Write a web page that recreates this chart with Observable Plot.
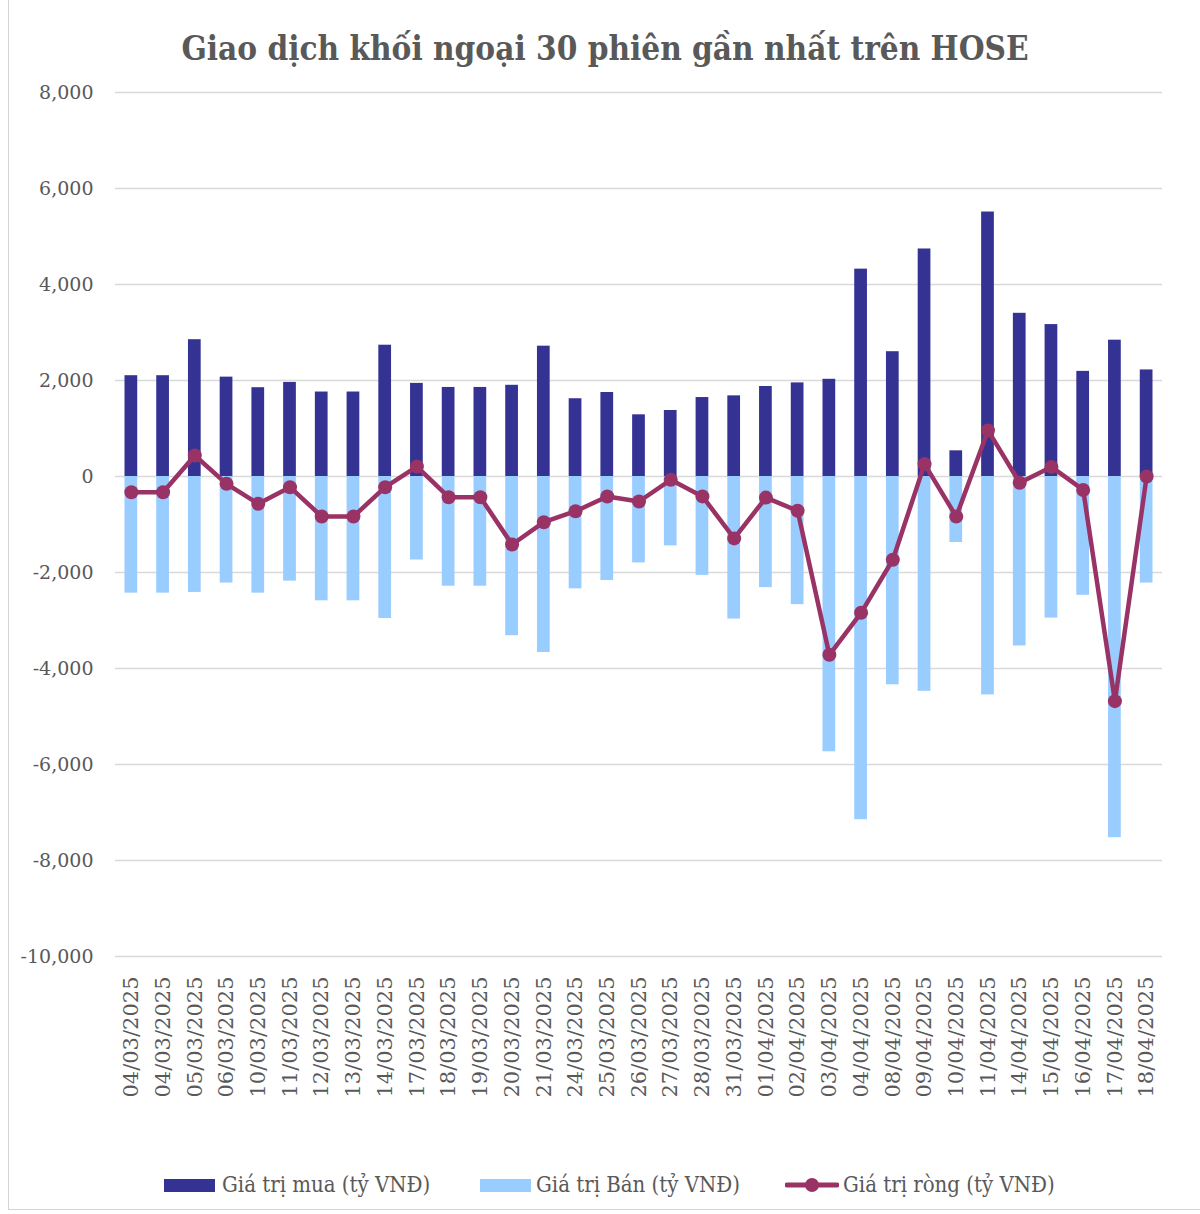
<!DOCTYPE html>
<html>
<head>
<meta charset="utf-8">
<script src="https://cdn.jsdelivr.net/npm/d3@7"></script>
<script src="https://cdn.jsdelivr.net/npm/@observablehq/plot@0.6"></script>
<style>
  html, body { margin: 0; padding: 0; background: #fff; }
  #wrap { position: relative; width: 1200px; height: 1214px; overflow: hidden; font-family: "DejaVu Serif", serif; }
  #frame { position: absolute; left: 8px; top: -2px; width: 1200px; height: 1212px; border: 1.5px solid #d4d4d4; box-sizing: border-box; pointer-events: none; }
  #title { height: 80px; box-sizing: border-box; padding-top: 30px; text-align: center; font-family: "DejaVu Serif Condensed", "DejaVu Serif", serif; font-stretch: condensed; font-weight: bold; font-size: 33px; line-height: 38px; color: #595959; padding-left: 10px; }
  #chart svg { display: block; }
  #legend { position: relative; height: 44px; font-family: "DejaVu Serif Condensed", "DejaVu Serif", serif; font-stretch: condensed; font-size: 22px; color: #595959; }
  .sw { position: absolute; top: 9px; height: 13px; }
  .lt { position: absolute; top: 1px; line-height: 28px; white-space: nowrap; }
</style>
</head>
<body>
<div id="wrap">
  <div id="title">Giao dịch khối ngoại 30 phiên gần nhất trên HOSE</div>
  <div id="chart"></div>
  <div id="legend"></div>
  <div id="frame"></div>
</div>
<script>
const dates = ["04/03/2025","04/03/2025","05/03/2025","06/03/2025","10/03/2025","11/03/2025","12/03/2025","13/03/2025","14/03/2025","17/03/2025","18/03/2025","19/03/2025","20/03/2025","21/03/2025","24/03/2025","25/03/2025","26/03/2025","27/03/2025","28/03/2025","31/03/2025","01/04/2025","02/04/2025","03/04/2025","04/04/2025","08/04/2025","09/04/2025","10/04/2025","11/04/2025","14/04/2025","15/04/2025","16/04/2025","17/04/2025","18/04/2025"];
const buy = [2100,2100,2850,2070,1850,1960,1760,1760,2735,1940,1855,1855,1900,2715,1620,1750,1285,1375,1645,1680,1875,1950,2025,4320,2600,4740,535,5510,3400,3165,2190,2840,2220];
const sell = [-2430,-2430,-2415,-2220,-2430,-2180,-2590,-2590,-2958,-1740,-2286,-2286,-3317,-3667,-2340,-2167,-1800,-1445,-2060,-2970,-2315,-2670,-5735,-7150,-4340,-4475,-1375,-4550,-3530,-2950,-2475,-7525,-2220];
const net = [-327,-327,437,-153,-570,-223,-833,-833,-223,208,-431,-431,-1417,-952,-723,-417,-521,-70,-415,-1290,-440,-715,-3715,-2840,-1735,258,-835,960,-130,200,-280,-4680,0];
const yTicks = [8000,6000,4000,2000,0,-2000,-4000,-6000,-8000,-10000];
const legendLabels = ["Giá trị mua (tỷ VNĐ)","Giá trị Bán (tỷ VNĐ)","Giá trị ròng (tỷ VNĐ)"];

const colBuy = "#343394", colSell = "#99ccff", colNet = "#993366";
const data = dates.map((d, i) => ({i, date: d, buy: buy[i], sell: sell[i], net: net[i]}));
const inset = 9.5;

const chart = Plot.plot({
  width: 1200,
  height: 1090,
  marginTop: 12,
  marginBottom: 214,
  marginLeft: 115,
  marginRight: 38,
  style: {fontFamily: "DejaVu Serif, serif", background: "#fff"},
  x: {type: "band", domain: d3.range(dates.length), padding: 0, round: false, label: null},
  y: {domain: [-10000, 8000], label: null},
  marks: [
    Plot.gridY(yTicks, {stroke: "#d9d9d9", strokeOpacity: 1, strokeWidth: 1.6}),
    Plot.axisY(yTicks, {tickSize: 0, tickPadding: 22, fontSize: 19, fill: "#595959", tickFormat: d => d.toLocaleString("en-US"), label: null}),
    Plot.axisX({tickRotate: -90, tickSize: 0, tickPadding: 20, fontSize: 21, fill: "#595959", tickFormat: i => dates[i], label: null}),
    Plot.barY(data, {x: "i", y1: 0, y2: "buy", fill: colBuy, insetLeft: inset, insetRight: inset}),
    Plot.barY(data, {x: "i", y1: 0, y2: "sell", fill: colSell, insetLeft: inset, insetRight: inset}),
    Plot.lineY(data, {x: "i", y: "net", stroke: colNet, strokeWidth: 4.5}),
    Plot.dot(data, {x: "i", y: "net", r: 7, fill: colNet})
  ]
});
document.getElementById("chart").appendChild(chart);

const lg = document.getElementById("legend");
const items = [
  {sw: 164, tx: 222, type: "bar", color: colBuy},
  {sw: 480, tx: 536, type: "bar", color: colSell},
  {sw: 785, tx: 843, type: "line", color: colNet}
];
items.forEach((it, k) => {
  if (it.type === "bar") {
    const s = document.createElement("div");
    s.className = "sw";
    s.style.left = it.sw + "px"; s.style.width = "51px"; s.style.background = it.color;
    lg.appendChild(s);
  } else {
    const s = document.createElementNS("http://www.w3.org/2000/svg", "svg");
    s.setAttribute("width", 54); s.setAttribute("height", 20);
    s.style.position = "absolute"; s.style.left = it.sw + "px"; s.style.top = "5px";
    s.innerHTML = `<line x1="2" x2="52" y1="10" y2="10" stroke="${it.color}" stroke-width="5" stroke-linecap="round"/><circle cx="27" cy="10" r="7" fill="${it.color}"/>`;
    lg.appendChild(s);
  }
  const t = document.createElement("div");
  t.className = "lt";
  t.style.left = it.tx + "px";
  t.textContent = legendLabels[k];
  lg.appendChild(t);
});
</script>
</body>
</html>
